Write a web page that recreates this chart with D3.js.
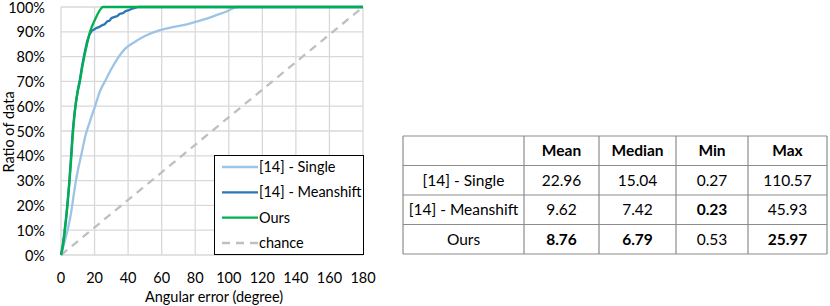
<!DOCTYPE html>
<html>
<head>
<meta charset="utf-8">
<script src="https://cdn.jsdelivr.net/npm/d3@7"></script>
<style>
  body { margin: 0; background: #fff; }
  svg { display: block; font-family: Lato, "Noto Sans", sans-serif; }
</style>
</head>
<body>
<div id="chart"></div>
<script>
// curve data: angular error (deg) -> ratio of data (%)
const singleAngle = [0, 2, 4.4, 6, 8.3, 10, 12.3, 14.5, 17.3, 20.3, 23.2, 26.2, 30, 34.5, 38, 43, 50, 59, 66, 72.9, 80, 86.8, 93, 98.7, 102, 105, 180];
const singleRatio = [0, 5, 11.4, 17, 27.5, 34, 41, 48, 54, 60, 66, 70, 75, 80, 83, 85.5, 88.3, 90.7, 91.8, 92.7, 94, 95.3, 96.8, 98.2, 99.3, 100, 100];

const meanshiftAngle = [0, 1, 2, 3, 4, 5, 6, 7, 8, 9, 10, 11.3, 12.5, 13.9, 15.5, 17, 18.5, 19.5, 21, 23, 25, 26, 27.5, 29, 30, 32, 33.5, 35, 37, 38.5, 40, 42, 44, 46, 180];
const meanshiftRatio = [0, 4, 9, 15, 22, 30, 40, 50, 57, 62, 66.5, 71, 76, 81, 86, 89, 90.5, 90.8, 91.5, 92, 92.8, 93, 94.2, 94.5, 95.5, 96, 96.3, 97.2, 97.5, 98.3, 98.6, 99.2, 99.6, 100, 100];

const oursAngle = [0, 1, 2, 3, 4, 5, 6, 7, 8, 9, 10, 11.3, 12.5, 13.9, 15.5, 17.3, 19.3, 21, 22.5, 24, 25, 180];
const oursRatio = [0, 3, 8, 14, 21, 29, 38, 48, 56, 62, 66, 70, 75, 80, 85, 90, 93.5, 96, 98, 99.5, 100, 100];

const chanceAngle = [0, 180];
const chanceRatio = [0, 100];

const xTicks = [0, 20, 40, 60, 80, 100, 120, 140, 160, 180];
const yTicks = [0, 10, 20, 30, 40, 50, 60, 70, 80, 90, 100];

// table data
const tableMethods = ['[14] - Single', '[14] - Meanshift', 'Ours'];
const tableColumns = ['Mean', 'Median', 'Min', 'Max'];
const meanValues = [22.96, 9.62, 8.76];
const medianValues = [15.04, 7.42, 6.79];
const minValues = [0.27, 0.23, 0.53];
const maxValues = [110.57, 45.93, 25.97];

const width = 830,
      height = 306,
      margin = {top: 7, left: 61, bottom: 51, right: 467},
      fontSize = 14.5,
      tableFontSize = 15.5;

const svg = d3.select('#chart').append('svg')
  .attr('width', width)
  .attr('height', height);

const x = d3.scaleLinear().domain([0, 180]).range([margin.left, width - margin.right]);
const y = d3.scaleLinear().domain([0, 100]).range([height - margin.bottom, margin.top]);

// grid
const grid = svg.append('g').attr('stroke', '#d9d9d9').attr('stroke-width', 1.3);
grid.selectAll('.gx').data(xTicks).enter().append('line')
  .attr('x1', d => x(d)).attr('x2', d => x(d))
  .attr('y1', y(0)).attr('y2', y(100));
grid.selectAll('.gy').data(yTicks).enter().append('line')
  .attr('x1', x(0)).attr('x2', x(180))
  .attr('y1', d => y(d)).attr('y2', d => y(d));

// tick labels
svg.append('g').selectAll('text').data(yTicks).enter().append('text')
  .attr('x', x(0) - 16)
  .attr('y', d => y(d))
  .attr('dy', '0.38em')
  .attr('text-anchor', 'end')
  .attr('font-size', fontSize)
  .attr('fill', '#000')
  .text(d => d + '%');

svg.append('g').selectAll('text').data(xTicks).enter().append('text')
  .attr('x', d => x(d))
  .attr('y', 283)
  .attr('text-anchor', 'middle')
  .attr('font-size', fontSize)
  .attr('fill', '#000')
  .text(d => d);

svg.append('text')
  .attr('x', 214).attr('y', 302)
  .attr('text-anchor', 'middle')
  .attr('font-size', fontSize)
  .text('Angular error (degree)');

svg.append('text')
  .attr('transform', 'translate(13.5,132) rotate(-90)')
  .attr('text-anchor', 'middle')
  .attr('font-size', fontSize)
  .text('Ratio of data');

// lines
const line = d3.line()
  .x(d => x(d[0]))
  .y(d => y(d[1]));

const series = [
  {name: '[14] - Single', angle: singleAngle, ratio: singleRatio, color: '#9dc3e6', dash: null, curve: d3.curveMonotoneX},
  {name: '[14] - Meanshift', angle: meanshiftAngle, ratio: meanshiftRatio, color: '#2e75b6', dash: null, curve: d3.curveLinear},
  {name: 'Ours', angle: oursAngle, ratio: oursRatio, color: '#00b050', dash: null, curve: d3.curveMonotoneX},
  {name: 'chance', angle: chanceAngle, ratio: chanceRatio, color: '#bfbfbf', dash: '8,6', curve: d3.curveLinear}
];

// draw chance first so it sits underneath
[series[3], series[0], series[1], series[2]].forEach(s => {
  svg.append('path')
    .datum(s.angle.map((a, i) => [a, s.ratio[i]]))
    .attr('fill', 'none')
    .attr('stroke', s.color)
    .attr('stroke-width', 2.3)
    .attr('stroke-dasharray', s.dash)
    .attr('stroke-linejoin', 'round')
    .attr('d', line.curve(s.curve));
});

// legend
const legend = svg.append('g');
legend.append('rect')
  .attr('x', 214.5).attr('y', 155.5)
  .attr('width', 149).attr('height', 99)
  .attr('fill', '#fff')
  .attr('stroke', '#000')
  .attr('stroke-width', 1);

const legendY = d3.scalePoint().domain(series.map(s => s.name)).range([167, 243]);
const items = legend.selectAll('.item').data(series).enter().append('g');
items.append('line')
  .attr('x1', 222).attr('x2', 258)
  .attr('y1', d => legendY(d.name)).attr('y2', d => legendY(d.name))
  .attr('stroke', d => d.color)
  .attr('stroke-width', 2.3)
  .attr('stroke-dasharray', d => d.dash);
items.append('text')
  .attr('x', 259)
  .attr('y', d => legendY(d.name))
  .attr('dy', '0.35em')
  .attr('font-size', fontSize)
  .text(d => d.name);

// table
const tableValues = [meanValues, medianValues, minValues, maxValues];
const colEdges = [403, 524, 599, 676, 748, 827];
const rowY = d3.scaleBand().domain(['header'].concat(tableMethods)).range([136, 254]);

const table = svg.append('g');
const tableLines = table.append('g').attr('stroke', '#8c8c8c').attr('stroke-width', 1.2);
colEdges.forEach(cx => {
  tableLines.append('line')
    .attr('x1', cx).attr('x2', cx)
    .attr('y1', rowY.range()[0]).attr('y2', rowY.range()[1]);
});
rowY.domain().concat(['end']).forEach((r, i) => {
  const yy = i < rowY.domain().length ? rowY(r) : rowY.range()[1];
  tableLines.append('line')
    .attr('x1', colEdges[0]).attr('x2', colEdges[colEdges.length - 1])
    .attr('y1', yy).attr('y2', yy);
});

const colCenter = i => (colEdges[i] + colEdges[i + 1]) / 2;

table.selectAll('.head').data(tableColumns).enter().append('text')
  .attr('x', (d, i) => colCenter(i + 1))
  .attr('y', rowY('header') + rowY.bandwidth() / 2)
  .attr('dy', '0.35em')
  .attr('text-anchor', 'middle')
  .attr('font-size', tableFontSize)
  .attr('font-weight', 'bold')
  .text(d => d);

table.selectAll('.method').data(tableMethods).enter().append('text')
  .attr('x', colCenter(0))
  .attr('y', d => rowY(d) + rowY.bandwidth() / 2)
  .attr('dy', '0.35em')
  .attr('text-anchor', 'middle')
  .attr('font-size', tableFontSize)
  .text(d => d);

tableValues.forEach((vals, c) => {
  const best = d3.min(vals);
  table.selectAll('.v' + c).data(vals).enter().append('text')
    .attr('x', colCenter(c + 1))
    .attr('y', (d, i) => rowY(tableMethods[i]) + rowY.bandwidth() / 2)
    .attr('dy', '0.35em')
    .attr('text-anchor', 'middle')
    .attr('font-size', tableFontSize)
    .attr('font-weight', d => d === best ? 'bold' : 'normal')
    .text(d => d.toFixed(2));
});
</script>
</body>
</html>
